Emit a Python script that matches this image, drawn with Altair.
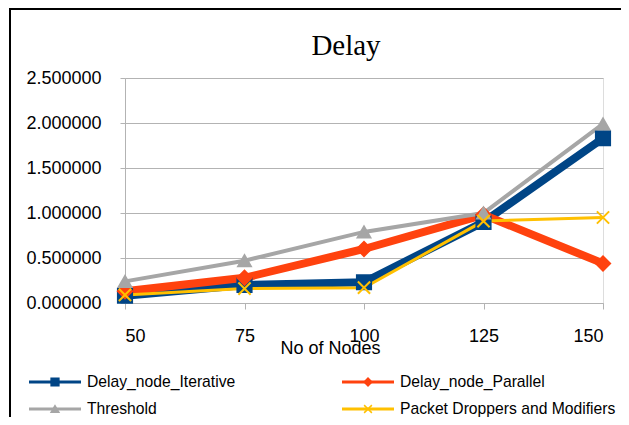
import altair as alt
import pandas as pd

nodes = [50, 75, 100, 125, 150]
series_names = ["Delay_node_Iterative", "Delay_node_Parallel", "Threshold", "Packet Droppers and Modifiers"]
iterative = [0.08, 0.20, 0.23, 0.90, 1.83]
parallel = [0.13, 0.28, 0.60, 0.98, 0.44]
threshold = [0.24, 0.47, 0.79, 1.00, 1.99]
packet = [0.09, 0.16, 0.17, 0.91, 0.95]
y_ticks = [0.0, 0.5, 1.0, 1.5, 2.0, 2.5]
legend_col = [0, 1, 0, 1]
legend_row = [0, 0, 1, 1]
chart_title = "Delay"

colors = ["#004586", "#ff420e", "#a6a6a6", "#ffc000"]
line_widths = [8, 8, 4, 3]
marker_shapes = ["square", "diamond", "triangle-up", "M-1,-1L1,1M-1,1L1,-1"]
marker_sizes = [200, 200, 160, 150]

rows = []
for name, vals in zip(series_names, [iterative, parallel, threshold, packet]):
    for n, v in zip(nodes, vals):
        rows.append({"nodes": n, "delay": v, "series": name})
df = pd.DataFrame(rows)
leg_df = pd.DataFrame({"series": series_names, "col": legend_col, "row": legend_row})

FONT = "Liberation Sans"
GRID = "#b3b3b3"

color_enc = alt.Color("series:N", scale=alt.Scale(domain=series_names, range=colors), legend=None)
shape_enc = alt.Shape("series:N", scale=alt.Scale(domain=series_names, range=marker_shapes), legend=None)
stroke_enc = alt.Stroke("series:N", scale=alt.Scale(domain=series_names, range=colors), legend=None)

x_enc = alt.X(
    "nodes:Q",
    scale=alt.Scale(domain=[50, 150], nice=False, zero=False),
    axis=alt.Axis(
        values=nodes, grid=False, tickSize=6, tickColor=GRID, domainColor=GRID,
        labelFontSize=18, labelFont=FONT, labelColor="black", labelPadding=18,
        title="No of Nodes", titleFont=FONT, titleFontSize=18, titleFontWeight="normal",
        titleColor="black", titleX=205, titleY=50, titleBaseline="alphabetic", titleAlign="center",
    ),
)
y_enc = alt.Y(
    "delay:Q",
    scale=alt.Scale(domain=[0, 2.5], nice=False),
    axis=alt.Axis(
        values=y_ticks, format=".6f", grid=True, gridColor=GRID, tickSize=5, tickColor=GRID,
        domainColor=GRID, labelFontSize=18, labelFont=FONT, labelColor="black", labelPadding=19,
        title=None,
    ),
)

base = alt.Chart(df).encode(x=x_enc, y=y_enc, color=color_enc)
lines = base.mark_line().encode(
    strokeWidth=alt.StrokeWidth("series:N", scale=alt.Scale(type="ordinal", domain=series_names, range=line_widths), legend=None)
)
points = base.mark_point(filled=True, opacity=1, strokeWidth=2).encode(
    shape=shape_enc,
    size=alt.Size("series:N", scale=alt.Scale(type="ordinal", domain=series_names, range=marker_sizes), legend=None),
    stroke=stroke_enc,
)
main = alt.layer(lines, points)

# manual legend
lx = alt.X("col:Q", scale=alt.Scale(domain=[0, 1], range=[-70, 243]), axis=None)
ly = alt.Y("row:Q", scale=alt.Scale(domain=[0, 1], range=[304, 331]), axis=None)
leg_base = alt.Chart(leg_df).encode(x=lx, y=ly)
leg_lines = leg_base.mark_tick(orient="horizontal", size=52, thickness=3, opacity=1).encode(color=color_enc)
leg_pts = leg_base.mark_point(filled=True, opacity=1, strokeWidth=1.5, size=60).encode(
    color=color_enc, shape=shape_enc, stroke=stroke_enc
)
leg_text = leg_base.mark_text(align="left", baseline="middle", dx=32, font=FONT, fontSize=15.7, color="black").encode(
    text="series:N"
)
legend = alt.layer(leg_lines, leg_pts, leg_text)

one = pd.DataFrame({"title": [chart_title]})
title_mark = alt.Chart(one).mark_text(
    font="Liberation Serif", fontSize=29, color="black", align="center", baseline="alphabetic"
).encode(x=alt.value(221), y=alt.value(-23), text="title:N")

frame_left = alt.Chart(one).mark_rule(color="black", strokeWidth=2).encode(
    x=alt.value(-115), y=alt.value(-69), y2=alt.value(400)
)
frame_top = alt.Chart(one).mark_rule(color="black", strokeWidth=2).encode(
    x=alt.value(-116), x2=alt.value(520), y=alt.value(-69)
)

chart = alt.layer(main, legend, title_mark, frame_left, frame_top).resolve_scale(
    x="independent", y="independent"
).properties(
    width=478, height=225,
    autosize=alt.AutoSizeParams(type="none"),
    padding={"left": 117, "top": 70, "right": 18, "bottom": 114},
).configure_view(stroke=GRID).configure(background="white")

chart.save("out.html", embed_options={"renderer": "svg", "actions": False})
